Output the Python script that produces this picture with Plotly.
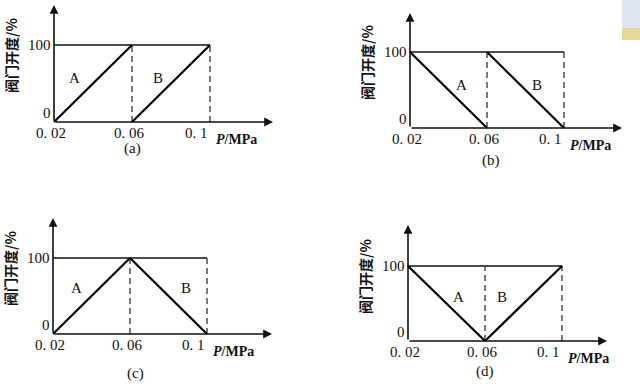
import plotly.graph_objects as go

W, H = 640, 385

# ---- data ----
p_ticks = [0.02, 0.06, 0.1]
p_tick_labels = ["0. 02", "0. 06", "0. 1"]
open_ticks = [0, 100]
open_tick_labels = ["0", "100"]

seg_A_p = [0.02, 0.06]
seg_B_p = [0.06, 0.1]
valve_A = {"a": [0, 100], "b": [100, 0], "c": [0, 100], "d": [100, 0]}
valve_B = {"a": [0, 100], "b": [100, 0], "c": [100, 0], "d": [0, 100]}
panel_names = ["a", "b", "c", "d"]
label_A_pos = {"a": (0.0303, 57), "b": (0.047, 57), "c": (0.032, 60), "d": (0.046, 59)}
label_B_pos = {"a": (0.0733, 57), "b": (0.086, 57), "c": (0.089, 60), "d": (0.069, 59)}

# ---- layout geometry (pixels) ----
geom = {
    "a": dict(q=(0, 320, 0, 190), px02=54, px10=210, py0=122, py100=45, xend=273, ytop=5, cap=25, capx=0),
    "b": dict(q=(320, 640, 0, 190), px02=410, px10=564, py0=128, py100=52, xend=622, ytop=13, cap=31, capx=4),
    "c": dict(q=(0, 320, 190, 385), px02=53, px10=207, py0=334, py100=258, xend=272, ytop=218, cap=38, capx=5),
    "d": dict(q=(320, 640, 190, 385), px02=408, px10=562, py0=341, py100=266, xend=607, ytop=225, cap=29, capx=0),
}

fig = go.Figure()
annotations = []
serif = "Liberation Serif, DejaVu Serif, serif"
cjk = "Noto Sans CJK SC, Noto Sans CJK JP, sans-serif"
ink = "#111111"

for i, name in enumerate(panel_names):
    g = geom[name]
    qx0, qx1, qy0, qy1 = g["q"]
    sx = (g["px10"] - g["px02"]) / (p_ticks[-1] - p_ticks[0])
    sy = (g["py0"] - g["py100"]) / 100.0
    xr = [p_ticks[0] - (g["px02"] - qx0) / sx, p_ticks[0] + (qx1 - g["px02"]) / sx]
    yr = [-(qy1 - g["py0"]) / sy, 100 + (g["py100"] - qy0) / sy]
    xa = "x" if i == 0 else f"x{i+1}"
    ya = "y" if i == 0 else f"y{i+1}"
    xkey = "xaxis" if i == 0 else f"xaxis{i+1}"
    ykey = "yaxis" if i == 0 else f"yaxis{i+1}"
    fig.layout[xkey] = dict(domain=[qx0 / W, qx1 / W], range=xr, visible=False, anchor=ya, fixedrange=True)
    fig.layout[ykey] = dict(domain=[1 - qy1 / H, 1 - qy0 / H], range=yr, visible=False, anchor=xa, fixedrange=True)

    x_end = p_ticks[0] + (g["xend"] - g["px02"]) / sx
    y_top = (g["py0"] - g["ytop"]) / sy

    fig.add_trace(go.Scatter(x=[p_ticks[0], p_ticks[-1]], y=[100, 100], mode="lines",
                             line=dict(color=ink, width=1.5), xaxis=xa, yaxis=ya,
                             showlegend=False, hoverinfo="skip", cliponaxis=False))
    for pv in p_ticks[1:]:
        fig.add_trace(go.Scatter(x=[pv, pv], y=[0, 100], mode="lines",
                                 line=dict(color="#333", width=1.3, dash="6px,4px"), xaxis=xa, yaxis=ya,
                                 showlegend=False, hoverinfo="skip", cliponaxis=False))
    fig.add_trace(go.Scatter(x=seg_A_p, y=valve_A[name], mode="lines",
                             line=dict(color="#000", width=2.2), xaxis=xa, yaxis=ya,
                             showlegend=False, hoverinfo="skip", cliponaxis=False))
    fig.add_trace(go.Scatter(x=seg_B_p, y=valve_B[name], mode="lines",
                             line=dict(color="#000", width=2.2), xaxis=xa, yaxis=ya,
                             showlegend=False, hoverinfo="skip", cliponaxis=False))

    annotations.append(dict(x=x_end, y=0, ax=p_ticks[0], ay=0, xref=xa, yref=ya, axref=xa, ayref=ya,
                            showarrow=True, arrowhead=2, arrowsize=1.1, arrowwidth=1.6, arrowcolor=ink, text=""))
    annotations.append(dict(x=p_ticks[0], y=y_top, ax=p_ticks[0], ay=0, xref=xa, yref=ya, axref=xa, ayref=ya,
                            showarrow=True, arrowhead=2, arrowsize=1.1, arrowwidth=1.6, arrowcolor=ink, text=""))

    for pv, lab in zip(p_ticks, p_tick_labels):
        last = pv == p_ticks[-1]
        annotations.append(dict(x=pv, y=0, xref=xa, yref=ya, text=lab, showarrow=False,
                                xanchor="right" if last else "center", xshift=0 if last else -3,
                                yanchor="middle", yshift=-11,
                                font=dict(family=serif, size=15, color=ink)))
    for ov, lab in zip(open_ticks, open_tick_labels):
        annotations.append(dict(x=p_ticks[0], y=ov, xref=xa, yref=ya, text=lab, showarrow=False,
                                xanchor="right", xshift=-1, yanchor="middle", yshift=9 if ov == 0 else 0,
                                font=dict(family=serif, size=15, color=ink)))
    annotations.append(dict(x=p_ticks[-1], y=0, xref=xa, yref=ya, showarrow=False,
                            text="<b><i>P</i>/MPa</b>", xanchor="left", xshift=4, yanchor="middle", yshift=-17,
                            font=dict(family=serif, size=14, color=ink)))
    annotations.append(dict(x=p_ticks[0], y=100, xref=xa, yref=ya, showarrow=False,
                            text="<b>阀门开度/%</b>", textangle=-90, xanchor="center", yanchor="middle",
                            xshift=-43, yshift=-11,
                            font=dict(family=cjk, size=14, color=ink)))
    annotations.append(dict(x=label_A_pos[name][0], y=label_A_pos[name][1], xref=xa, yref=ya, text="A",
                            showarrow=False, font=dict(family=serif, size=15, color=ink)))
    annotations.append(dict(x=label_B_pos[name][0], y=label_B_pos[name][1], xref=xa, yref=ya, text="B",
                            showarrow=False, font=dict(family=serif, size=15, color=ink)))
    annotations.append(dict(x=p_ticks[1], y=0, xref=xa, yref=ya, text=f"({name})", showarrow=False,
                            xshift=g["capx"], yshift=-g["cap"] - 1, yanchor="middle",
                            font=dict(family=serif, size=15, color=ink)))

fig.update_layout(
    width=W, height=H, margin=dict(l=0, r=0, t=0, b=0),
    paper_bgcolor="white", plot_bgcolor="white",
    annotations=annotations, showlegend=False,
    shapes=[
        dict(type="rect", xref="paper", yref="paper", x0=622 / W, x1=1, y0=1 - 40 / H, y1=1,
             fillcolor="#dfe6f2", line=dict(width=0), layer="below"),
        dict(type="rect", xref="paper", yref="paper", x0=622 / W, x1=1, y0=1 - 40 / H, y1=1 - 28 / H,
             fillcolor="#e8d79a", line=dict(width=0), layer="below"),
    ],
)

fig.write_html("out.html", config={"displayModeBar": False},
               post_script="document.body.style.margin='0';document.body.style.overflow='hidden';")
